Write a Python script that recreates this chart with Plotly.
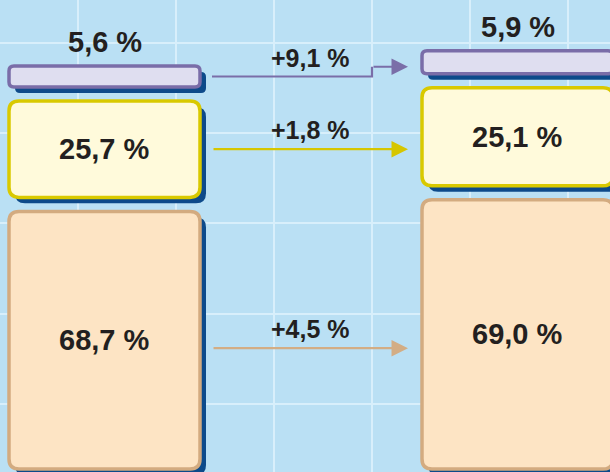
import plotly.graph_objects as go

# shares of the two columns (bottom to top: orange, yellow, purple)
segments = ["large", "medium", "small"]
share_left = [68.7, 25.7, 5.6]
share_right = [69.0, 25.1, 5.9]
growth = [4.5, 1.8, 9.1]

fills = ["#FDE4C4", "#FFFADB", "#DFDEF0"]
borders = ["#D3AB80", "#D9C900", "#7A6DA8"]
arrow_cols = ["#D3AD84", "#D6C600", "#7A6EA8"]
shadow = "#0D4A8A"
txt = "#231F20"

W, H = 610, 472
PX_X = 413.0          # px per x unit (distance between column centres)
PX_Y = 3.75           # px per y unit (percent of the left column total)
X0 = -104.5 / PX_X
Y0 = -3 / PX_Y
GAP = 14 / PX_Y
HALF = 95.5 / PX_X


def fmt(v):
    return f"{v:.1f}".replace(".", ",") + " %"


# right column is scaled by the overall growth of the total
total_ratio = sum(s * (1 + g / 100) for s, g in zip(share_left, growth)) / 100


def stack(shares, scale):
    out, y = [], 0.0
    for s in shares:
        h = s * scale
        out.append((y, y + h))
        y += h + GAP
    return out


cols = [(0, stack(share_left, 1.0)), (1, stack(share_right, total_ratio))]


def rrect(x0, x1, y0, y1, r):
    rx, ry = r / PX_X, r / PX_Y
    return (f"M{x0+rx},{y0} L{x1-rx},{y0} Q{x1},{y0} {x1},{y0+ry} "
            f"L{x1},{y1-ry} Q{x1},{y1} {x1-rx},{y1} L{x0+rx},{y1} "
            f"Q{x0},{y1} {x0},{y1-ry} L{x0},{y0+ry} Q{x0},{y0} {x0+rx},{y0} Z")


fig = go.Figure()
shapes, annos = [], []
dx, dy = 6 / PX_X, 6 / PX_Y

for xc, segs in cols:
    for i, (b, t) in enumerate(segs):
        r = 5 if i == 2 else 10
        shapes.append(dict(type="path", xref="x", yref="y",
                           path=rrect(xc - HALF + dx, xc + HALF + dx, b - dy, t - dy, r),
                           fillcolor=shadow, line=dict(width=0)))
        shapes.append(dict(type="path", xref="x", yref="y",
                           path=rrect(xc - HALF, xc + HALF, b, t, r),
                           fillcolor=fills[i], line=dict(color=borders[i], width=3.5)))

shares = [share_left, share_right]
for k, (xc, segs) in enumerate(cols):
    for i, (b, t) in enumerate(segs):
        if i == 2:
            y, ys = t, 24
        else:
            y, ys = (b + t) / 2, 0
        annos.append(dict(x=xc, y=y, yshift=ys, text=fmt(shares[k][i]), showarrow=False,
                          font=dict(size=29, color=txt, family="Liberation Sans, Arial", weight="bold")))

# growth arrows
tail = HALF + 12 / PX_X
head = 1 - HALF - 14 / PX_X
step = head - 36 / PX_X
nudge = [8, 0, 0]     # px downwards
left_segs, right_segs = cols[0][1], cols[1][1]
for i, g in enumerate(growth):
    yl = sum(left_segs[i]) / 2 - nudge[i] / PX_Y
    yr = yl
    if i == 2:
        yr = sum(right_segs[i]) / 2 - 4.5 / PX_Y
        fig.add_trace(go.Scatter(x=[tail, step, step], y=[yl, yl, yr], mode="lines",
                                 line=dict(color=arrow_cols[i], width=2.2), hoverinfo="skip"))
        ax = step
    else:
        ax = tail
    annos.append(dict(x=head, y=yr, ax=ax, ay=yr, axref="x", ayref="y", xref="x", yref="y",
                      text="", showarrow=True, arrowhead=2, arrowsize=1.5, arrowwidth=2.2,
                      arrowcolor=arrow_cols[i], standoff=0, startstandoff=0))
    annos.append(dict(x=(tail + head) / 2, y=yl, yshift=19, text=f"+{g:.1f}".replace(".", ",") + " %",
                      showarrow=False,
                      font=dict(size=25, color=txt, family="Liberation Sans, Arial", weight="bold")))

fig.update_layout(
    width=W, height=H, margin=dict(l=0, r=0, t=0, b=0),
    plot_bgcolor="#BAE0F4", paper_bgcolor="#BAE0F4",
    showlegend=False, shapes=shapes, annotations=annos,
    xaxis=dict(range=[X0, X0 + W / PX_X], showgrid=True, gridcolor="#D8EFFB", gridwidth=2,
               tick0=(78 - 104.5) / PX_X, dtick=98 / PX_X, showticklabels=False,
               zeroline=False, fixedrange=True),
    yaxis=dict(range=[Y0, Y0 + H / PX_Y], showgrid=True, gridcolor="#D8EFFB", gridwidth=2,
               tick0=(469 - 404) / PX_Y, dtick=90.3 / PX_Y, showticklabels=False,
               zeroline=False, fixedrange=True),
)

fig.write_html("out.html", config={"displayModeBar": False},
               post_script="document.body.style.margin='0';")
